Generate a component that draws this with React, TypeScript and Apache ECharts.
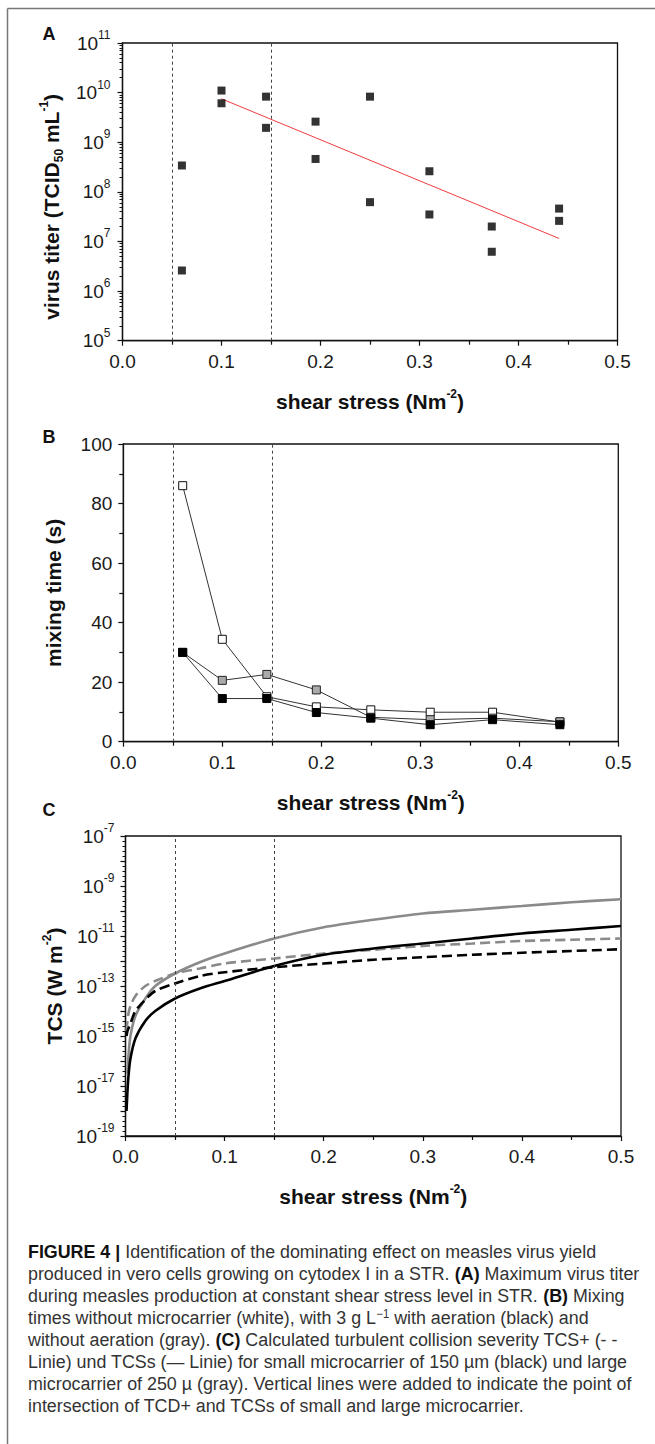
import React, { useEffect, useRef } from "react";
import * as echarts from "echarts";

const FONT = "Liberation Sans, Arial, Helvetica, sans-serif";
const CAPTION_FONT = "Liberation Sans, Arial, Helvetica, sans-serif";

// ---------- Panel A: virus titer ----------
const shearA = [0.06, 0.06, 0.1, 0.1, 0.145, 0.145, 0.195, 0.195, 0.25, 0.25, 0.31, 0.31, 0.373, 0.373, 0.441, 0.441];
const titerA = [3.4e8, 2.6e6, 1.1e10, 6.1e9, 8.3e9, 1.95e9, 2.6e9, 4.6e8, 8.3e9, 6.2e7, 2.6e8, 3.5e7, 2.0e7, 6.2e6, 4.6e7, 2.6e7];
const fitShearA = [0.1, 0.441];
const fitTiterA = [7.5e9, 1.15e7];
const vlinesAB = [0.0545, 0.1535];

// ---------- Panel B: mixing time ----------
const shearB = [0.06, 0.1, 0.145, 0.195, 0.25, 0.31, 0.373, 0.441];
const mixWhite = [86, 34.4, 15.1, 11.7, 10.7, 9.9, 9.9, 6.6];
const mixGray = [30, 20.6, 22.6, 17.4, 8.2, 7.4, 7.9, 6.7];
const mixBlack = [30, 14.5, 14.5, 9.8, 7.9, 5.7, 7.4, 5.7];

// ---------- Panel C: TCS (log10 values) ----------
const shearC = [0.001, 0.002, 0.003, 0.005, 0.01, 0.02, 0.03, 0.05, 0.075, 0.1, 0.15, 0.2, 0.25, 0.3, 0.35, 0.4, 0.45, 0.5];
const logTcsSmallSolid = [-18.0, -17.2, -16.6, -15.9, -15.1, -14.4, -14.0, -13.5, -13.1, -12.8, -12.2, -11.75, -11.5, -11.3, -11.1, -10.9, -10.75, -10.6];
const logTcsLargeSolid = [null, -16.5, -15.8, -15.0, -14.2, -13.5, -13.0, -12.5, -12.05, -11.7, -11.1, -10.65, -10.35, -10.1, -9.95, -9.8, -9.65, -9.53];
const logTcsSmallDash = [-15.0, -14.8, -14.7, -14.5, -14.0, -13.55, -13.2, -12.9, -12.6, -12.45, -12.25, -12.1, -11.95, -11.85, -11.75, -11.67, -11.6, -11.53];
const logTcsLargeDash = [-14.8, -14.4, -14.1, -13.8, -13.4, -13.0, -12.8, -12.5, -12.3, -12.1, -11.9, -11.7, -11.55, -11.4, -11.3, -11.2, -11.15, -11.1];
const vlinesC = [0.05, 0.15];

const xTickLabels = ["0.0", "0.1", "0.2", "0.3", "0.4", "0.5"];

const captionLines = [
  "{b|FIGURE 4 |} Identification of the dominating effect on measles virus yield",
  "produced in vero cells growing on cytodex I in a STR. {b|(A)} Maximum virus titer",
  "during measles production at constant shear stress level in STR. {b|(B)} Mixing",
  "times without microcarrier (white), with 3 g L{s|−1} with aeration (black) and",
  "without aeration (gray). {b|(C)} Calculated turbulent collision severity TCS+ (- -",
  "Linie) und TCSs (— Linie) for small microcarrier of 150 µm (black) und large",
  "microcarrier of 250 µ (gray). Vertical lines were added to indicate the point of",
  "intersection of TCD+ and TCSs of small and large microcarrier.",
];

const TXT = "#1a1a1a";

const nameRich = {
  b: { fontSize: 21, fontWeight: "bold", fontFamily: FONT, color: "#111", lineHeight: 27 },
  s: { fontSize: 12, fontWeight: "bold", fontFamily: FONT, color: "#111", lineHeight: 12, verticalAlign: "top" },
  u: { fontSize: 12, fontWeight: "bold", fontFamily: FONT, color: "#111", lineHeight: 12, verticalAlign: "bottom" },
};

const powRich = {
  b: { fontSize: 19, fontFamily: FONT, color: TXT, lineHeight: 28 },
  s: { fontSize: 12, fontFamily: FONT, color: TXT, lineHeight: 10, verticalAlign: "top" },
};

function xAxisCfg(gridIndex: number) {
  return {
    type: "value",
    gridIndex,
    min: 0,
    max: 0.5,
    interval: 0.1,
    axisLine: { show: true, onZero: false, lineStyle: { color: "#111", width: 1.3 } },
    axisTick: { show: true, inside: false, length: 5, lineStyle: { color: "#111", width: 1.2 } },
    minorTick: { show: true, splitNumber: 2, length: 4, lineStyle: { color: "#111", width: 1.2 } },
    splitLine: { show: false },
    axisLabel: {
      fontSize: 19,
      color: TXT,
      fontFamily: FONT,
      margin: 11,
      showMinLabel: true,
      showMaxLabel: true,
      formatter: (v: number) => xTickLabels[Math.round(v * 10)] ?? "",
    },
    name: "{b|shear stress (Nm}{s|-2}{b|)}",
    nameLocation: "middle",
    nameGap: 47,
    nameTextStyle: { rich: nameRich },
  };
}

const yTickCommon = {
  axisLine: { show: true, lineStyle: { color: "#111", width: 1.3 } },
  axisTick: { show: true, inside: false, length: 5, lineStyle: { color: "#111", width: 1.2 } },
  splitLine: { show: false },
  nameLocation: "middle",
  nameRotate: 90,
};

const vline = (vals: number[]) => ({
  silent: true,
  symbol: ["none", "none"],
  label: { show: false },
  lineStyle: { type: [3, 3], color: "#444", width: 1 },
  data: vals.map((v) => ({ xAxis: v })),
});

function buildOption() {
  const graphics: any[] = [
    { type: "line", shape: { x1: 7.5, y1: 8.5, x2: 655, y2: 8.5 }, style: { stroke: "#777", lineWidth: 1.5 } },
    { type: "line", shape: { x1: 7.5, y1: 8.5, x2: 7.5, y2: 1444 }, style: { stroke: "#777", lineWidth: 1.5 } },
    { type: "text", x: 49, y: 34, style: { text: "A", fontSize: 18, fontWeight: "bold", fontFamily: FONT, fill: "#111", align: "center", verticalAlign: "middle" } },
    { type: "text", x: 49, y: 437, style: { text: "B", fontSize: 18, fontWeight: "bold", fontFamily: FONT, fill: "#111", align: "center", verticalAlign: "middle" } },
    { type: "text", x: 49, y: 810, style: { text: "C", fontSize: 18, fontWeight: "bold", fontFamily: FONT, fill: "#111", align: "center", verticalAlign: "middle" } },
  ];
  captionLines.forEach((line, i) => {
    graphics.push({
      type: "text",
      x: 28,
      y: 1251 + i * 22,
      scaleX: 0.94,
      style: {
        text: line,
        fontSize: 19,
        fontFamily: CAPTION_FONT,
        fill: "#333",
        verticalAlign: "middle",
        rich: {
          b: { fontSize: 19, fontFamily: CAPTION_FONT, fontWeight: "bold", fill: "#111" },
          s: { fontSize: 12, fontFamily: CAPTION_FONT, fill: "#333", verticalAlign: "top", lineHeight: 12 },
        },
      },
    });
  });

  return {
    animation: false,
    backgroundColor: "#fff",
    grid: [
      { left: 122.5, top: 43, width: 495, height: 297.7, show: true, borderColor: "#111", borderWidth: 1.3, backgroundColor: "transparent" },
      { left: 123.3, top: 444, width: 495, height: 297.7, show: true, borderColor: "#111", borderWidth: 1.3, backgroundColor: "transparent" },
      { left: 125.5, top: 836, width: 495.5, height: 300, show: true, borderColor: "#111", borderWidth: 1.3, backgroundColor: "transparent" },
    ],
    xAxis: [xAxisCfg(0), xAxisCfg(1), xAxisCfg(2)],
    yAxis: [
      {
        ...yTickCommon,
        type: "log",
        logBase: 10,
        gridIndex: 0,
        min: 1e5,
        max: 1e11,
        splitNumber: 6,
        minorTick: { show: true, splitNumber: 9, length: 3, lineStyle: { color: "#111", width: 1 } },
        axisLabel: {
          margin: 12,
          formatter: (v: number) => `{b|10}{s|${Math.round(Math.log10(v))}}`,
          rich: powRich,
        },
        name: "{b|virus titer (TCID}{u|50}{b| mL}{s|-1}{b|)}",
        nameGap: 56,
        nameTextStyle: { rich: nameRich, padding: [0, 30, 0, 0] },
      },
      {
        ...yTickCommon,
        type: "value",
        gridIndex: 1,
        min: 0,
        max: 100,
        interval: 20,
        minorTick: { show: true, splitNumber: 2, length: 4, lineStyle: { color: "#111", width: 1.2 } },
        axisLabel: { margin: 11, fontSize: 19, color: TXT, fontFamily: FONT },
        name: "{b|mixing time (s)}",
        nameGap: 56,
        nameTextStyle: { rich: nameRich },
      },
      {
        ...yTickCommon,
        type: "value",
        gridIndex: 2,
        min: -19,
        max: -7,
        interval: 1,
        minorTick: { show: true, splitNumber: 5, length: 3, lineStyle: { color: "#111", width: 1 } },
        axisLabel: {
          margin: 11,
          formatter: (v: number) => (Math.abs(v) % 2 === 1 ? `{b|10}{s|${v}}` : ""),
          rich: powRich,
        },
        name: "{b|TCS (W m}{s|-2}{b|)}",
        nameGap: 56,
        nameTextStyle: { rich: nameRich },
      },
    ],
    series: [
      {
        type: "scatter",
        xAxisIndex: 0,
        yAxisIndex: 0,
        symbol: "rect",
        symbolSize: 8,
        itemStyle: { color: "#000" },
        data: shearA.map((x, i) => [x, titerA[i]]),
        markLine: vline(vlinesAB),
        z: 3,
      },
      {
        type: "line",
        xAxisIndex: 0,
        yAxisIndex: 0,
        symbol: "none",
        lineStyle: { color: "#f03c3c", width: 1 },
        data: fitShearA.map((x, i) => [x, fitTiterA[i]]),
        z: 2,
      },
      {
        type: "line",
        xAxisIndex: 1,
        yAxisIndex: 1,
        symbol: "rect",
        symbolSize: 8,
        itemStyle: { color: "#fff", borderColor: "#111", borderWidth: 1 },
        lineStyle: { color: "#333", width: 1 },
        data: shearB.map((x, i) => [x, mixWhite[i]]),
        markLine: vline(vlinesAB),
      },
      {
        type: "line",
        xAxisIndex: 1,
        yAxisIndex: 1,
        symbol: "rect",
        symbolSize: 8,
        itemStyle: { color: "#aaa", borderColor: "#222", borderWidth: 1 },
        lineStyle: { color: "#333", width: 1 },
        data: shearB.map((x, i) => [x, mixGray[i]]),
      },
      {
        type: "line",
        xAxisIndex: 1,
        yAxisIndex: 1,
        symbol: "rect",
        symbolSize: 8,
        itemStyle: { color: "#000", borderColor: "#000", borderWidth: 1 },
        lineStyle: { color: "#333", width: 1 },
        data: shearB.map((x, i) => [x, mixBlack[i]]),
      },
      {
        type: "line",
        xAxisIndex: 2,
        yAxisIndex: 2,
        symbol: "none",
        smooth: 0.3,
        lineStyle: { color: "#8a8a8a", width: 2.6 },
        data: shearC.map((x, i) => [x, logTcsLargeSolid[i]]),
        markLine: vline(vlinesC),
      },
      {
        type: "line",
        xAxisIndex: 2,
        yAxisIndex: 2,
        symbol: "none",
        smooth: 0.3,
        lineStyle: { color: "#8a8a8a", width: 2.6, type: [10, 5] },
        data: shearC.map((x, i) => [x, logTcsLargeDash[i]]),
      },
      {
        type: "line",
        xAxisIndex: 2,
        yAxisIndex: 2,
        symbol: "none",
        smooth: 0.3,
        lineStyle: { color: "#000", width: 2.6 },
        data: shearC.map((x, i) => [x, logTcsSmallSolid[i]]),
      },
      {
        type: "line",
        xAxisIndex: 2,
        yAxisIndex: 2,
        symbol: "none",
        smooth: 0.3,
        lineStyle: { color: "#000", width: 2.6, type: [10, 5] },
        data: shearC.map((x, i) => [x, logTcsSmallDash[i]]),
      },
    ],
    graphic: graphics,
  };
}

export default function App() {
  const ref = useRef<HTMLDivElement>(null);
  useEffect(() => {
    if (!ref.current) return;
    const chart = echarts.init(ref.current, undefined, { renderer: "svg" });
    chart.setOption(buildOption() as any);
    return () => chart.dispose();
  }, []);
  return (
    <div
      ref={ref}
      style={{ position: "absolute", left: 0, top: 0, width: 655, height: 1444, background: "#fff" }}
    />
  );
}
